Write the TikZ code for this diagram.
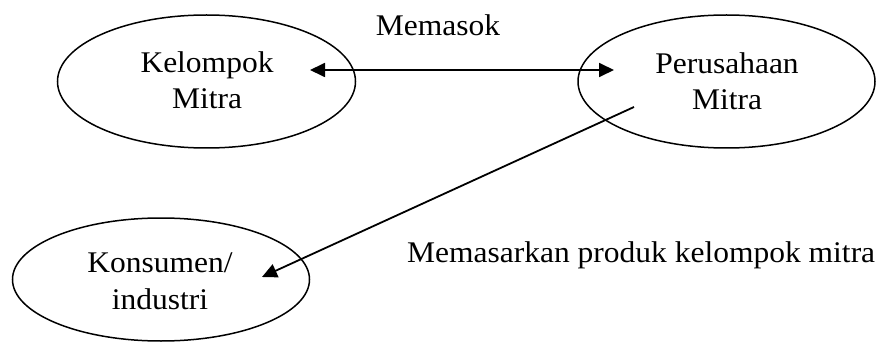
\documentclass[tikz,border=0pt]{standalone}
\usepackage{fontspec}
\setmainfont{Liberation Serif}[FakeStretch=1.05]
\usetikzlibrary{arrows.meta,shapes.geometric}
\tikzset{tri/.tip={Triangle[length=15pt,width=14pt]}}
\begin{document}
\begin{tikzpicture}[x=1pt,y=-1pt,
  txt/.style={font=\fontsize{30}{36.5}\selectfont},
  bubble/.style={draw, ellipse, line width=1.5pt, inner sep=0pt},
  lbl/.style={txt, inner sep=0pt, align=center},
  link/.style={line width=1.8pt}]
\useasboundingbox (0,0) rectangle (886,342);

% the three parties
\node[bubble, minimum width=298pt, minimum height=133pt] (kel) at (206.5,81.5) {};
\node[bubble, minimum width=297pt, minimum height=133pt] (per) at (726.5,81.5) {};
\node[bubble, minimum width=297pt, minimum height=123pt] (kon) at (161,279.5) {};

% their names
\node[lbl, anchor=north] (kelT) at (207,51) {Kelompok\\Mitra};
\node[lbl, anchor=north] (perT) at (727,52) {Perusahaan\\Mitra};
\node[lbl, anchor=north] (konT) at (160,253) {Konsumen/\\industri};

% free ends of the connectors
\coordinate (supA) at (310,70);
\coordinate (supB) at (614,70);
\coordinate (mktA) at (634,107);
\coordinate (mktB) at (262,277);

% supply link and marketing link
\draw[link, tri-tri] (supA) -- (supB);
\draw[link, -tri] (mktA) -- (mktB);

% link labels
\node[lbl, anchor=base] (sup) at (438,36) {Memasok};
\node[lbl, anchor=base west] (mkt) at (407,262) {Memasarkan produk kelompok mitra};
\end{tikzpicture}
\end{document}
